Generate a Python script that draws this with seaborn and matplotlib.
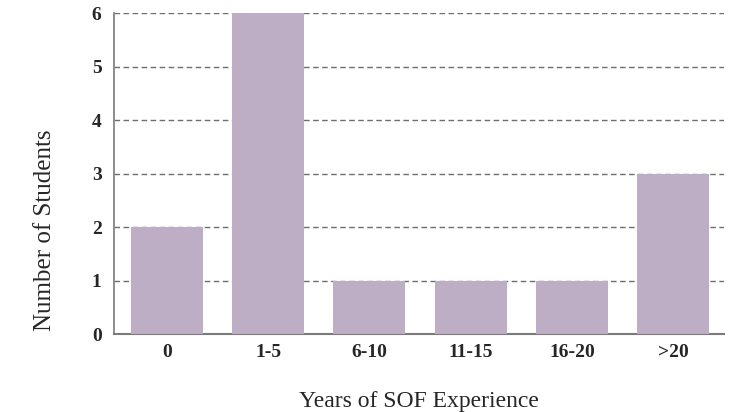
import matplotlib
matplotlib.use("Agg")
import matplotlib.pyplot as plt
import seaborn as sns
import pandas as pd

# Years of SOF experience vs number of students
categories = ["0", "1-5", "6-10", "11-15", "16-20", ">20"]
students = [2, 6, 1, 1, 1, 3]

df = pd.DataFrame({"Experience": categories, "Students": students})

sns.set_style("white")
plt.rcParams["font.family"] = ["Liberation Serif", "DejaVu Serif"]

fig = plt.figure(figsize=(7.38, 4.12), dpi=100)
ax = fig.add_axes([0.1545, 0.1893, 0.8265, 0.7791])

sns.barplot(data=df, x="Experience", y="Students", color="#bdaec6",
            saturation=1, width=0.71, linewidth=0, ax=ax, zorder=3)
ax.set_xlim(-0.52, 5.5)

ax.set_ylim(0, 6)
ax.set_yticks(range(0, 7))
ax.yaxis.grid(True, linestyle=(0, (4, 2.5)), color="#6e6e6e", linewidth=1, zorder=0)
ax.xaxis.grid(False)
ax.set_axisbelow(True)

for s in ["top", "right"]:
    ax.spines[s].set_visible(False)
ax.spines["left"].set_color("#7a7a7a")
ax.spines["bottom"].set_color("#7a7a7a")
ax.spines["left"].set_linewidth(1.2)
ax.spines["bottom"].set_linewidth(1.5)

ax.tick_params(axis="both", length=0, labelsize=14)
ax.tick_params(axis="y", pad=9)
ax.tick_params(axis="x", pad=7)
for lbl in ax.get_xticklabels() + ax.get_yticklabels():
    lbl.set_fontweight("bold")

ax.set_xlabel("Years of SOF Experience", fontsize=17, labelpad=22)
ax.set_ylabel("Number of Students", fontsize=18)
ax.yaxis.set_label_coords(-0.095, 0.324)

fig.savefig("out.png", dpi=100)
